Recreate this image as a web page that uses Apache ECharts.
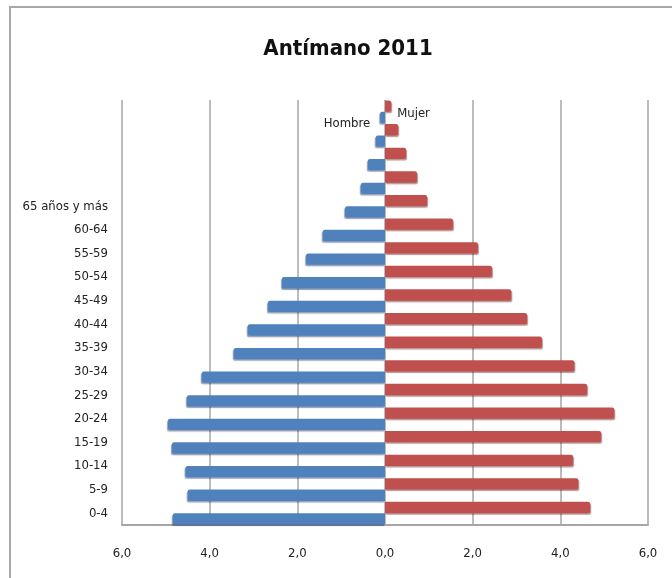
<!DOCTYPE html>
<html>
<head>
<meta charset="utf-8">
<script src="https://cdn.jsdelivr.net/npm/echarts@6/dist/echarts.min.js"></script>
<style>
  html, body { margin: 0; padding: 0; background: #fff; }
  #chart { width: 672px; height: 578px; }
</style>
</head>
<body>
<div id="chart"></div>
<script>
// grupos de edad (de abajo hacia arriba); los 4 de arriba no llevan rótulo
const categories = ['0-4', '5-9', '10-14', '15-19', '20-24', '25-29', '30-34', '35-39',
  '40-44', '45-49', '50-54', '55-59', '60-64', '65 años y más', '', '', '', '']
// porcentajes
const hombre = [4.84, 4.50, 4.55, 4.86, 4.95, 4.52, 4.18, 3.45, 3.13, 2.67, 2.35, 1.80, 1.42, 0.91, 0.55, 0.39, 0.21, 0.11]
const mujer = [4.68, 4.41, 4.29, 4.93, 5.23, 4.61, 4.32, 3.58, 3.24, 2.88, 2.44, 2.12, 1.55, 0.96, 0.73, 0.48, 0.30, 0.14]
const xTicks = [-6, 6, 2]

const font = '"Liberation Sans Narrow", "DejaVu Sans Condensed", sans-serif'
const chart = echarts.init(document.getElementById('chart'))
const last = categories.length - 1

chart.setOption({
  animation: false,
  title: {
    text: 'Antímano 2011',
    left: 343,
    textAlign: 'center',
    top: 33,
    textStyle: { fontFamily: font, fontSize: 22, fontWeight: 'bold', color: '#111' }
  },
  graphic: [
    {
      type: 'rect',
      shape: { x: 10, y: 7, width: 700, height: 620 },
      style: { fill: 'none', stroke: '#a8a8a8', lineWidth: 2 },
      silent: true
    }
  ],
  grid: { left: 122, right: 24, top: 100, bottom: 53, containLabel: false },
  xAxis: {
    type: 'value',
    min: xTicks[0],
    max: xTicks[1],
    interval: xTicks[2],
    axisLine: { show: true, lineStyle: { color: '#a6a6a6', width: 2 } },
    axisTick: { show: false },
    splitLine: { show: true, lineStyle: { color: '#a6a6a6', width: 1.5 } },
    axisLabel: {
      margin: 22,
      fontFamily: font,
      fontSize: 13,
      color: '#222',
      formatter: v => Math.abs(v).toFixed(1).replace('.', ',')
    }
  },
  yAxis: {
    type: 'category',
    data: categories,
    axisLine: { show: false },
    axisTick: { show: false },
    axisLabel: { margin: 14, fontFamily: font, fontSize: 13, color: '#222' }
  },
  series: [
    {
      name: 'Mujer',
      type: 'bar',
      barGap: '0%',
      barCategoryGap: '4%',
      data: mujer.map((v, i) => ({
        value: v,
        label: i === last ? {
          show: true, position: 'right', distance: 6, offset: [0, 7],
          formatter: '{a}', fontFamily: font, fontSize: 13, color: '#222'
        } : { show: false }
      })),
      itemStyle: {
        color: '#c0504d',
        borderRadius: [0, 2, 2, 0],
        shadowColor: 'rgba(90,20,20,0.45)',
        shadowOffsetX: 1,
        shadowOffsetY: 1.5,
        shadowBlur: 1
      }
    },
    {
      name: 'Hombre',
      type: 'bar',
      data: hombre.map((v, i) => ({
        value: -v,
        label: i === last ? {
          show: true, position: 'left', distance: 10, offset: [0, 6],
          formatter: '{a}', fontFamily: font, fontSize: 13, color: '#222'
        } : { show: false }
      })),
      itemStyle: {
        color: '#4f81bd',
        borderRadius: [2, 0, 0, 2],
        shadowColor: 'rgba(20,40,90,0.45)',
        shadowOffsetX: -1,
        shadowOffsetY: 1.5,
        shadowBlur: 1
      }
    }
  ]
})
</script>
</body>
</html>
